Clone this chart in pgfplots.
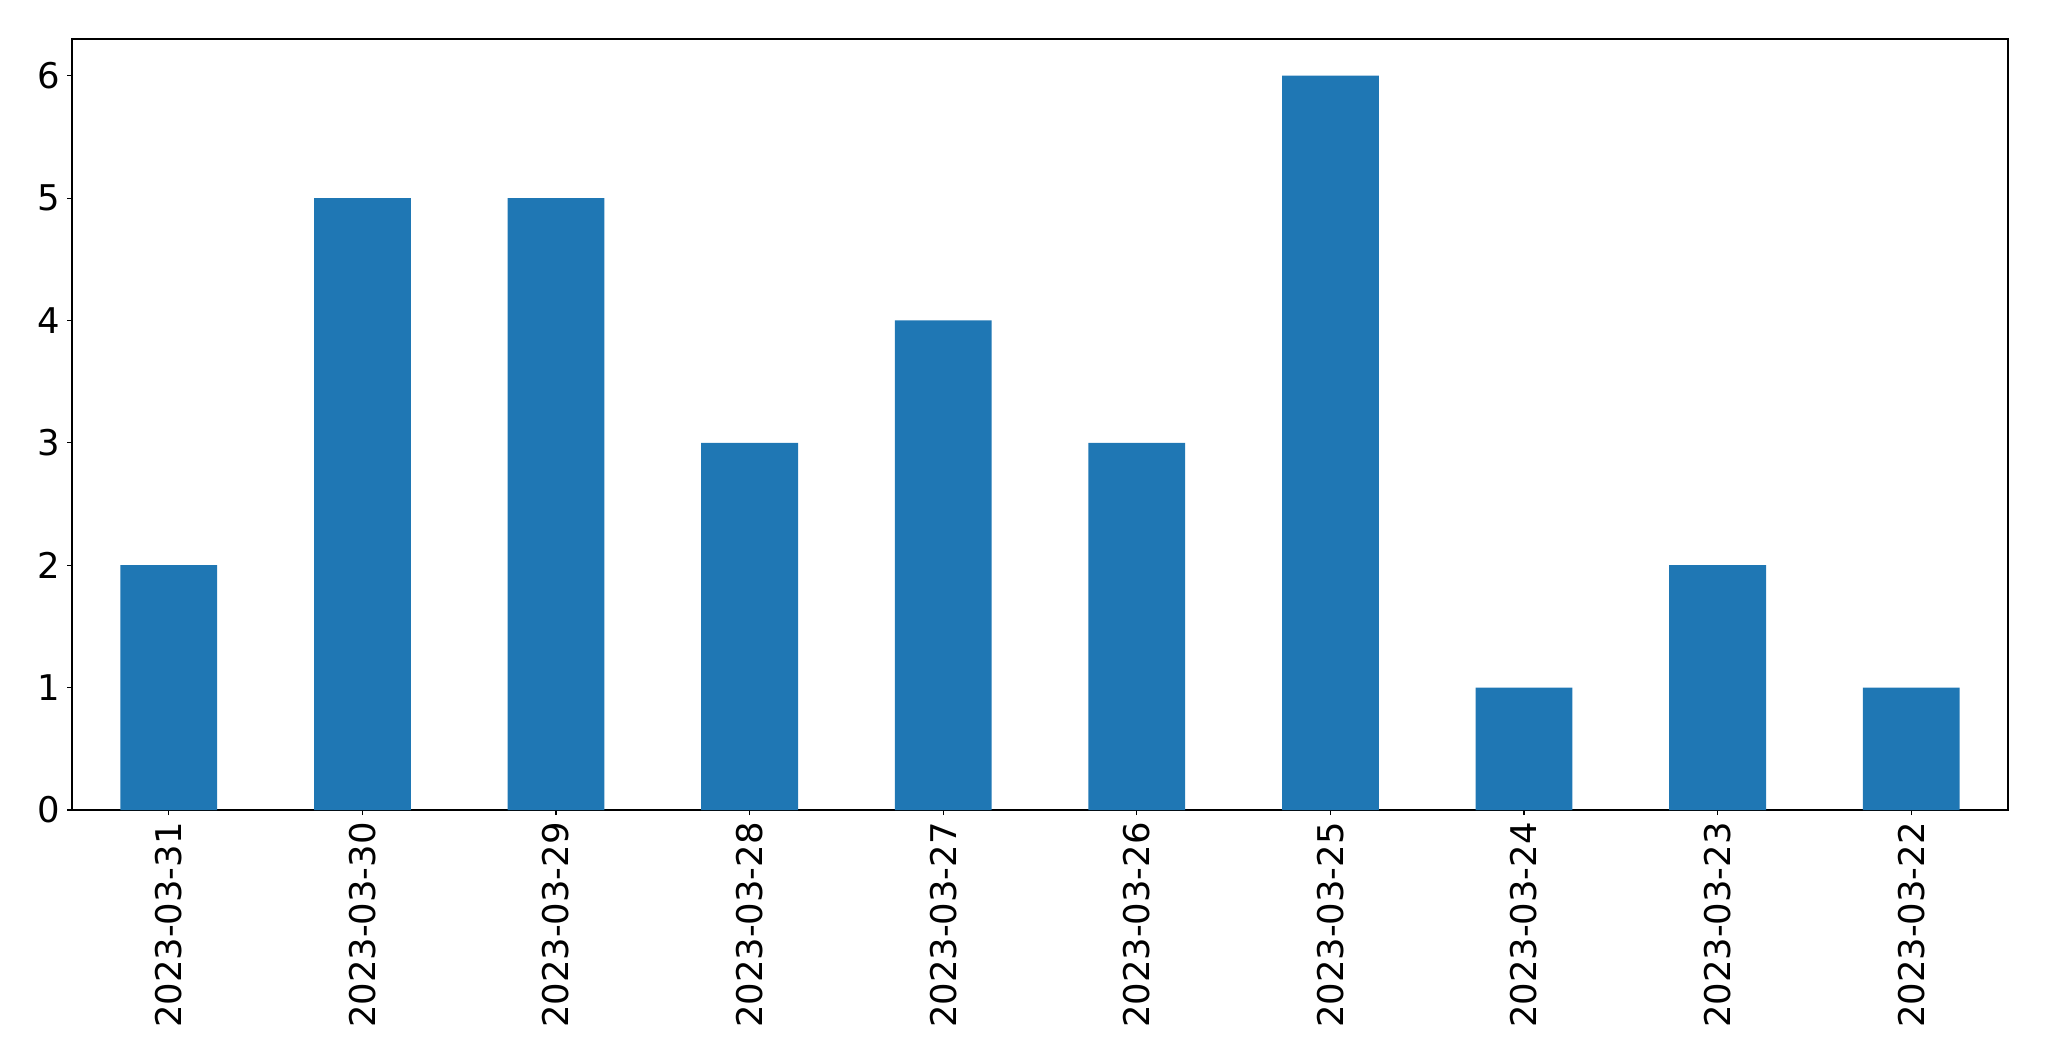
\documentclass[border=0pt]{standalone}
\usepackage{fontspec}
\setmainfont{DejaVu Sans}
\usepackage{pgfplots}
\pgfplotsset{compat=1.18}
\definecolor{tabblue}{HTML}{1F77B4}
\begin{document}
\begin{tikzpicture}
\useasboundingbox (0,0) rectangle (1024.5pt,530.5pt);
\begin{axis}[
  at={(36pt,125.5pt)}, anchor=south west,
  scale only axis,
  width=968pt, height=385.5pt,
  xmin=-0.5, xmax=9.5, ymin=0, ymax=6.3,
  xtick={0,...,9},
  xticklabels={2023-03-31,2023-03-30,2023-03-29,2023-03-28,2023-03-27,2023-03-26,2023-03-25,2023-03-24,2023-03-23,2023-03-22},
  ytick={0,1,2,3,4,5,6},
  xticklabel style={rotate=90, anchor=east},
  tick label style={font=\fontsize{17.7}{21}\selectfont},
  /pgf/number format/assume math mode=true,
  tick align=outside,
  major tick length=2.5pt,
  tick style={black, line width=0.55pt},
  xtick pos=bottom, ytick pos=left,
  axis line style={black, line width=0.55pt},
  every axis/.append style={line width=0.55pt},
]
\addplot[ybar, bar width=0.5, fill=tabblue, draw=none, bar shift=0pt] coordinates {
(0,2) (1,5) (2,5) (3,3) (4,4) (5,3) (6,6) (7,1) (8,2) (9,1)
};
\end{axis}
\end{tikzpicture}
\end{document}
